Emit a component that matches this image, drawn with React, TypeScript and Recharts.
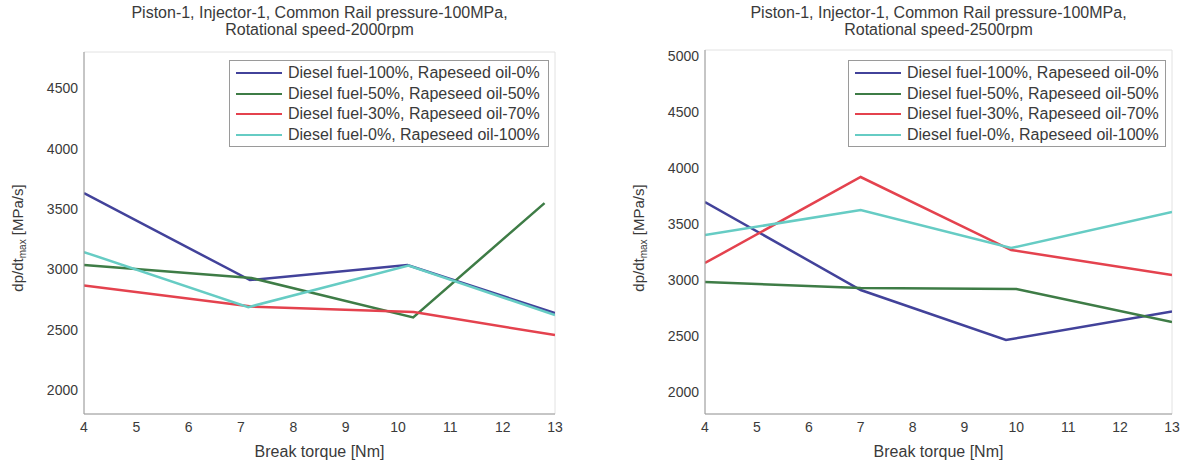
import { LineChart, Line, XAxis, YAxis, ReferenceArea } from "recharts";

const torqueTicks = [4, 5, 6, 7, 8, 9, 10, 11, 12, 13];
const leftRateTicks = [2000, 2500, 3000, 3500, 4000, 4500];
const rightRateTicks = [2000, 2500, 3000, 3500, 4000, 4500, 5000];

const seriesNames = [
  "Diesel fuel-100%, Rapeseed oil-0%",
  "Diesel fuel-50%, Rapeseed oil-50%",
  "Diesel fuel-30%, Rapeseed oil-70%",
  "Diesel fuel-0%, Rapeseed oil-100%",
];
const seriesColors = ["#42429a", "#3e7c46", "#e4424e", "#66ccc4"];

// 2000 rpm
const left100Torque = [4, 7.17, 10.18, 13];
const left100Rate = [3630, 2910, 3034, 2637];
const left50Torque = [4, 7.2, 10.29, 12.8];
const left50Rate = [3034, 2927, 2600, 3548];
const left30Torque = [4, 7.2, 10.3, 13];
const left30Rate = [2866, 2690, 2645, 2454];
const left0Torque = [4, 7.14, 10.2, 13];
const left0Rate = [3142, 2686, 3030, 2620];

// 2500 rpm
const right100Torque = [4, 7, 9.8, 13];
const right100Rate = [3693, 2907, 2461, 2715];
const right50Torque = [4, 7, 10, 13];
const right50Rate = [2979, 2925, 2916, 2621];
const right30Torque = [4, 7, 9.9, 13];
const right30Rate = [3148, 3916, 3264, 3041];
const right0Torque = [4, 7, 9.9, 13];
const right0Rate = [3398, 3621, 3282, 3604];

const toPoints = (torque: number[], rate: number[]) =>
  torque.map((t, i) => ({ torque: t, rate: rate[i] }));

const leftSeries = [
  toPoints(left100Torque, left100Rate),
  toPoints(left50Torque, left50Rate),
  toPoints(left30Torque, left30Rate),
  toPoints(left0Torque, left0Rate),
];
const rightSeries = [
  toPoints(right100Torque, right100Rate),
  toPoints(right50Torque, right50Rate),
  toPoints(right30Torque, right30Rate),
  toPoints(right0Torque, right0Rate),
];

const font = "'Liberation Sans', Arial, sans-serif";
const textColor = "#3a3a3a";

function LegendBox({ left, width }: { left: number; width: number }) {
  return (
    <div
      style={{
        position: "absolute",
        top: 60,
        left,
        width,
        height: 87,
        boxSizing: "border-box",
        border: "1px solid #9a9a9a",
        background: "#fff",
        padding: "2px 4px 2px 6px",
        fontFamily: font,
        fontSize: 16,
        color: textColor,
        whiteSpace: "nowrap",
      }}
    >
      {seriesNames.map((name, i) => (
        <div key={name} style={{ display: "flex", alignItems: "center", height: 20.5 }}>
          <span
            style={{
              display: "inline-block",
              width: 46,
              height: 0,
              borderTop: `2px solid ${seriesColors[i]}`,
              marginRight: 6,
            }}
          />
          <span>{name}</span>
        </div>
      ))}
    </div>
  );
}

interface PanelProps {
  speed: string;
  series: { torque: number; rate: number }[][];
  rateDomain: [number, number];
  rateTicks: number[];
  yAxisWidth: number;
  marginTop: number;
  marginRight: number;
  legendLeft: number;
  legendWidth: number;
  labelX: number;
}

function Panel({
  speed,
  series,
  rateDomain,
  rateTicks,
  yAxisWidth,
  marginTop,
  marginRight,
  legendLeft,
  legendWidth,
  labelX,
}: PanelProps) {
  const plotCenter = yAxisWidth + (594 - yAxisWidth - marginRight) / 2;
  return (
    <div style={{ position: "relative", width: 594, height: 461 }}>
      <div
        style={{
          position: "absolute",
          left: plotCenter - 260,
          width: 520,
          top: 4,
          textAlign: "center",
          fontFamily: font,
          fontSize: 16,
          lineHeight: "17px",
          color: textColor,
        }}
      >
        Piston-1, Injector-1, Common Rail pressure-100MPa,
        <br />
        Rotational speed-{speed}rpm
      </div>
      <LineChart
        width={594}
        height={461}
        margin={{ top: marginTop, right: marginRight, left: 0, bottom: 0 }}
      >
        <ReferenceArea
          x1={4}
          x2={13}
          y1={rateDomain[0]}
          y2={rateDomain[1]}
          fill="none"
          stroke="#e2e2e2"
          strokeWidth={1}
        />
        <XAxis
          type="number"
          dataKey="torque"
          domain={[4, 13]}
          ticks={torqueTicks}
          allowDataOverflow
          height={47}
          stroke="#9a9a9a"
          tickLine={false}
          tickSize={4}
          tickMargin={4}
          tick={{ fill: textColor, fontSize: 14, fontFamily: font }}
          label={{
            value: "Break torque [Nm]",
            position: "insideBottom",
            offset: 4,
            fill: textColor,
            fontSize: 16,
            fontFamily: font,
          }}
        />
        <YAxis
          type="number"
          dataKey="rate"
          domain={rateDomain}
          ticks={rateTicks}
          allowDataOverflow
          width={yAxisWidth}
          stroke="#9a9a9a"
          tickLine={false}
          tickSize={4}
          tickMargin={2}
          tick={{ fill: textColor, fontSize: 14, fontFamily: font }}
          label={{
            content: () => (
              <text
                x={labelX}
                y={238}
                transform={`rotate(-90 ${labelX} 238)`}
                textAnchor="middle"
                dominantBaseline="middle"
                fill={textColor}
                fontSize={15}
                fontFamily={font}
              >
                dp/dt
                <tspan fontSize={10} dy={4}>max</tspan>
                <tspan dy={-4}> [MPa/s]</tspan>
              </text>
            ),
          }}
        />
        {series.map((points, i) => (
          <Line
            key={seriesNames[i]}
            data={points}
            dataKey="rate"
            name={seriesNames[i]}
            type="linear"
            stroke={seriesColors[i]}
            strokeWidth={2.5}
            dot={false}
            isAnimationActive={false}
          />
        ))}
      </LineChart>
      <LegendBox left={legendLeft} width={legendWidth} />
    </div>
  );
}

export default function App() {
  return (
    <div
      style={{
        position: "absolute",
        left: 0,
        top: 0,
        width: 1188,
        height: 461,
        display: "flex",
        background: "#fff",
      }}
    >
      <Panel
        speed="2000"
        series={leftSeries}
        rateDomain={[1800, 4800]}
        rateTicks={leftRateTicks}
        yAxisWidth={84}
        marginTop={52}
        marginRight={39}
        legendLeft={229}
        legendWidth={320}
        labelX={19}
      />
      <Panel
        speed="2500"
        series={rightSeries}
        rateDomain={[1800, 5050]}
        rateTicks={rightRateTicks}
        yAxisWidth={111}
        marginTop={50}
        marginRight={16}
        legendLeft={254}
        legendWidth={318}
        labelX={46}
      />
    </div>
  );
}
